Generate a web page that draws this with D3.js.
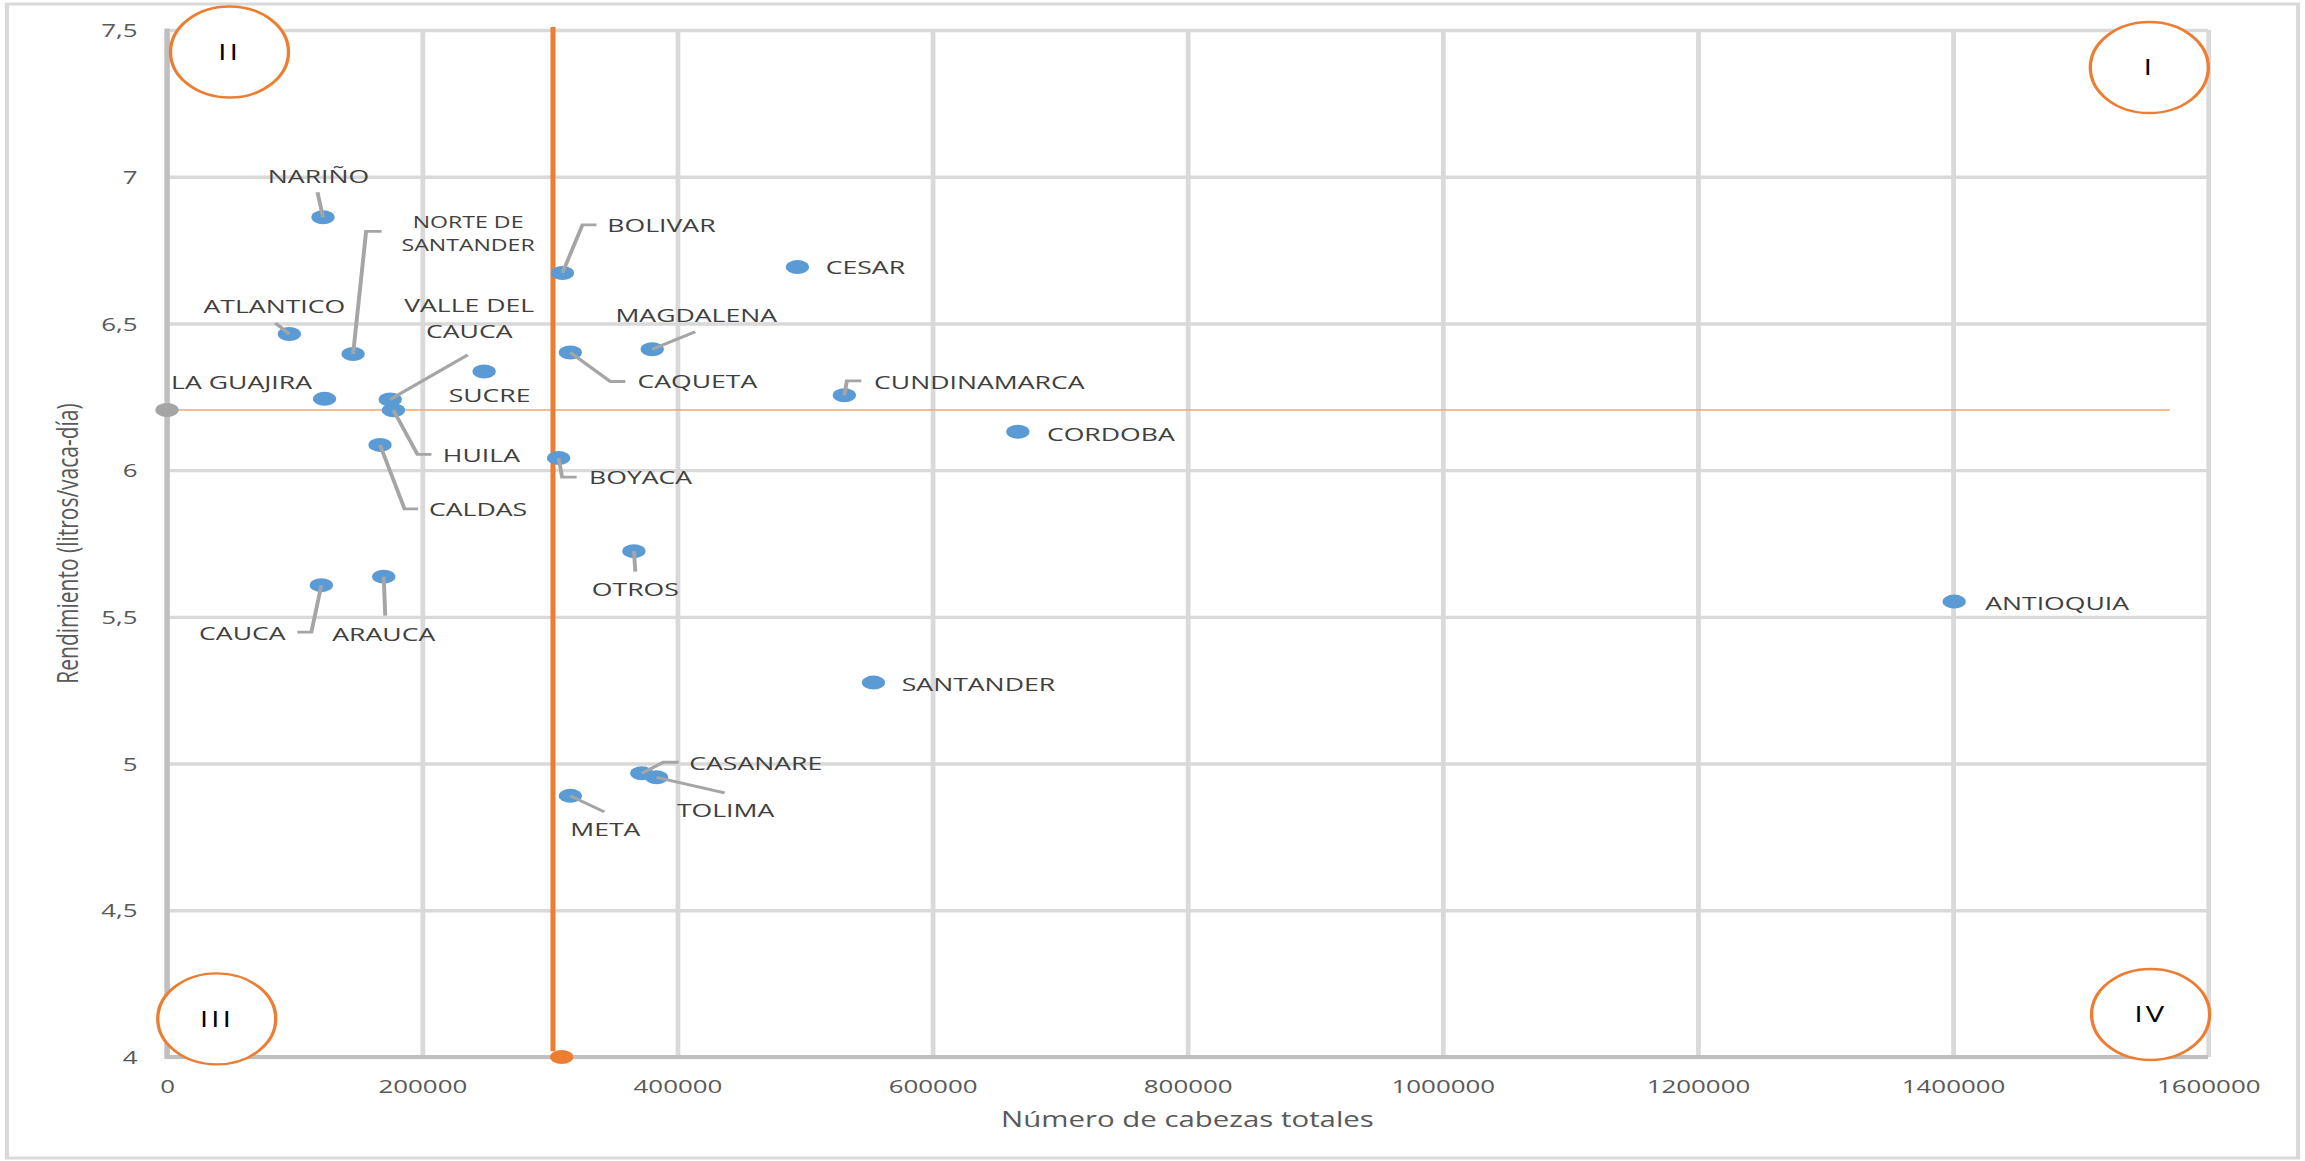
<!DOCTYPE html>
<html>
<head>
<meta charset="utf-8">
<script src="https://cdn.jsdelivr.net/npm/d3@7"></script>
<style>
    body { margin: 0; background: #fff; }
    text { font-family: "Open Sans", "Liberation Sans", sans-serif; }
</style>
</head>
<body>
<div id="chart"></div>
<script>
// Data
const departamentos = ["ANTIOQUIA", "ARAUCA", "ATLANTICO", "BOLIVAR", "BOYACA", "CALDAS", "CAQUETA",
    "CASANARE", "CAUCA", "CESAR", "CORDOBA", "CUNDINAMARCA", "HUILA", "LA GUAJIRA", "MAGDALENA",
    "META", "NARIÑO", "NORTE DE SANTANDER", "SANTANDER", "SUCRE", "TOLIMA", "VALLE DEL CAUCA", "OTROS"];
const cabezas = [1401000, 169900, 95900, 310000, 307000, 167000, 316200,
    372200, 121000, 494200, 667000, 531000, 177500, 123500, 380400,
    316200, 122300, 145900, 553800, 248600, 383800, 175000, 366000];
const rendimiento = [5.552, 5.637, 6.464, 6.672, 6.041, 6.086, 6.401,
    4.967, 5.608, 6.692, 6.131, 6.255, 6.204, 6.243, 6.412,
    4.890, 6.862, 6.396, 5.276, 6.336, 4.953, 6.241, 5.724];

// Promedios (reference lines)
const promedioCabezasLinea = 302600;
const promedioCabezasPunto = 309400;
const promedioRendimiento = 6.205;

// Ticks
const xTicks = [0, 200000, 400000, 600000, 800000, 1000000, 1200000, 1400000, 1600000];
const yTicks = [4, 4.5, 5, 5.5, 6, 6.5, 7, 7.5];
const yTickLabels = ["4", "4,5", "5", "5,5", "6", "6,5", "7", "7,5"];

// Quadrant marks
const cuadrantes = ["I", "II", "III", "IV"];
const cuadranteX = [1554000, 49000, 39000, 1555000];
const cuadranteY = [7.372, 7.425, 4.130, 4.145];

// Label layout: offsets in screen px from the point, leader polyline ends at the point
const labelLayout = {
    "ANTIOQUIA": { dx: 103, dy: [8] },
    "ARAUCA": { dx: 0, dy: [64], leader: [[1.5, 39], [0, 0]] },
    "ATLANTICO": { dx: -15, dy: [-21], leader: [[-14, -11], [0, 0]] },
    "BOLIVAR": { dx: 99, dy: [-41], leader: [[34, -48], [20, -48], [0, 0]] },
    "BOYACA": { dx: 82, dy: [26], leader: [[18, 19], [3.5, 19], [0, 0]] },
    "CALDAS": { dx: 98, dy: [71], leader: [[38, 64], [24.5, 64], [0, 0]] },
    "CAQUETA": { dx: 127, dy: [36], leader: [[55, 29], [40, 29], [0, 0]] },
    "CASANARE": { dx: 114, dy: [-3], leader: [[37, -11], [21.5, -11], [0, 0]] },
    "CAUCA": { dx: -79, dy: [55], leader: [[-24, 47], [-10, 47], [0, 0]] },
    "CESAR": { dx: 68, dy: [7] },
    "CORDOBA": { dx: 93, dy: [9] },
    "CUNDINAMARCA": { dx: 135, dy: [-6], leader: [[17, -14.5], [2.5, -14.5], [0, 0]] },
    "HUILA": { dx: 88, dy: [52], leader: [[38, 44], [24, 44], [0, 0]] },
    "LA GUAJIRA": { dx: -83, dy: [-9.5] },
    "MAGDALENA": { dx: 44, dy: [-27.5], leader: [[43, -17.5], [0, 0]] },
    "META": { dx: 35, dy: [40], leader: [[34, 16], [0, 0]] },
    "NARIÑO": { dx: -4.5, dy: [-34], leader: [[-5.5, -25], [0, 0]] },
    "NORTE DE SANTANDER": { dx: 115, dy: [-125.5, -102.5], lines: ["NORTE DE", "SANTANDER"], small: true,
        leader: [[28.5, -122.5], [13, -122.5], [0, 0]] },
    "SANTANDER": { dx: 105, dy: [8] },
    "SUCRE": { dx: 5.5, dy: [30.5] },
    "TOLIMA": { dx: 69, dy: [39.5], leader: [[68, 15.5], [0, 0]] },
    "VALLE DEL CAUCA": { dx: 79, dy: [-87, -61], lines: ["VALLE DEL", "CAUCA"], leader: [[77.5, -44.5], [0, 0]] },
    "OTROS": { dx: 1.5, dy: [45], leader: [[1.5, 20.5], [0, 0]] }
};

// The reference image is stretched horizontally; draw in a narrower space and stretch it
const K = 1.4;
const fullWidth = 2305, fullHeight = 1161;
const W = fullWidth / K;

const svg = d3.select("#chart")
    .append("svg")
    .attr("width", fullWidth)
    .attr("height", fullHeight)
    .attr("viewBox", `0 0 ${W} ${fullHeight}`)
    .attr("preserveAspectRatio", "none");

// Chart border
svg.append("rect")
    .attr("x", 7 / K)
    .attr("y", 4)
    .attr("width", (2298 - 7) / K)
    .attr("height", 1154)
    .attr("fill", "#fff")
    .attr("stroke", "#d9d9d9")
    .attr("stroke-width", 3);

const xScale = d3.scaleLinear()
    .domain([0, 1600000])
    .range([167 / K, 2208 / K]);

const yScale = d3.scaleLinear()
    .domain([4, 7.5])
    .range([1057, 30]);

const plotW = xScale(1600000) - xScale(0);
const plotH = yScale(4) - yScale(7.5);

// Grid + axes
svg.append("g")
    .attr("class", "x-axis")
    .attr("transform", `translate(0, ${yScale(4)})`)
    .call(d3.axisBottom(xScale)
        .tickValues(xTicks)
        .tickSize(-plotH)
        .tickPadding(23)
        .tickFormat(d => d));

svg.append("g")
    .attr("class", "y-axis")
    .attr("transform", `translate(${xScale(0)}, 0)`)
    .call(d3.axisLeft(yScale)
        .tickValues(yTicks)
        .tickSize(-plotW)
        .tickPadding(21)
        .tickFormat((d, i) => yTickLabels[i]));

svg.selectAll(".x-axis path, .y-axis path").remove();
svg.selectAll(".x-axis line, .y-axis line")
    .attr("stroke", "#d9d9d9")
    .attr("stroke-width", 3.4);
svg.selectAll(".x-axis text, .y-axis text")
    .attr("fill", "#595959")
    .style("font-size", "18.5px");
svg.selectAll(".y-axis text").attr("dy", "0.36em");

// Axis lines
svg.append("line")
    .attr("x1", xScale(0)).attr("x2", xScale(1600000))
    .attr("y1", yScale(4)).attr("y2", yScale(4))
    .attr("stroke", "#bfbfbf").attr("stroke-width", 4);
svg.append("line")
    .attr("x1", xScale(0)).attr("x2", xScale(0))
    .attr("y1", yScale(7.5) - 1.5).attr("y2", yScale(4) + 2)
    .attr("stroke", "#bfbfbf").attr("stroke-width", 3.8);

// Average lines
svg.append("line")
    .attr("x1", xScale(-6000)).attr("x2", xScale(1570000))
    .attr("y1", yScale(promedioRendimiento)).attr("y2", yScale(promedioRendimiento))
    .attr("stroke", "#f4a46e").attr("stroke-width", 1.6);

svg.append("line")
    .attr("x1", xScale(promedioCabezasLinea)).attr("x2", xScale(promedioCabezasLinea))
    .attr("y1", yScale(7.51)).attr("y2", yScale(4.02))
    .attr("stroke", "#ED7D31").attr("stroke-width", 3.6);

// Points
const points = departamentos.map((d, i) => ({ name: d, x: cabezas[i], y: rendimiento[i] }));

svg.selectAll(".dot")
    .data(points)
    .enter()
    .append("ellipse")
    .attr("class", "dot")
    .attr("cx", d => xScale(d.x))
    .attr("cy", d => yScale(d.y))
    .attr("rx", 8.3)
    .attr("ry", 7)
    .attr("fill", "#5B9BD5");

svg.append("ellipse")
    .attr("cx", xScale(0)).attr("cy", yScale(promedioRendimiento))
    .attr("rx", 8.3).attr("ry", 7)
    .attr("fill", "#A5A5A5");

svg.append("ellipse")
    .attr("cx", xScale(promedioCabezasPunto)).attr("cy", yScale(4))
    .attr("rx", 8.3).attr("ry", 7)
    .attr("fill", "#ED7D31");

// Leader lines
const line = d3.line();
points.forEach(p => {
    const lay = labelLayout[p.name];
    if (!lay.leader) return;
    svg.append("path")
        .attr("d", line(lay.leader.map(o => [xScale(p.x) + o[0] / K, yScale(p.y) + o[1]])))
        .attr("fill", "none")
        .attr("stroke", "#A5A5A5")
        .attr("stroke-width", 2.8);
});

// Data labels
points.forEach(p => {
    const lay = labelLayout[p.name];
    const lines = lay.lines || [p.name];
    lines.forEach((t, j) => {
        svg.append("text")
            .attr("x", xScale(p.x) + lay.dx / K)
            .attr("y", yScale(p.y) + lay.dy[j])
            .attr("text-anchor", "middle")
            .attr("fill", "#404040")
            .style("font-size", lay.small ? "16.5px" : "19px")
            .text(t);
    });
});

// Quadrant marks
cuadrantes.forEach((c, i) => {
    const cx = xScale(cuadranteX[i]), cy = yScale(cuadranteY[i]);
    svg.append("ellipse")
        .attr("cx", cx).attr("cy", cy)
        .attr("rx", 59 / K).attr("ry", 45.5)
        .attr("fill", "#fff")
        .attr("stroke", "#ED7D31")
        .attr("stroke-width", 2.4);
    svg.append("text")
        .attr("x", cx).attr("y", cy)
        .attr("dy", "0.36em")
        .attr("text-anchor", "middle")
        .attr("fill", "#000")
        .style("font-size", "22px")
        .style("letter-spacing", "2px")
        .text(c);
});

// Axis titles
svg.append("text")
    .attr("x", xScale(800000))
    .attr("y", 1127)
    .attr("text-anchor", "middle")
    .attr("fill", "#595959")
    .style("font-size", "21px")
    .text("Número de cabezas totales");

svg.append("text")
    .attr("transform", `translate(${78 / K}, ${(yScale(4) + yScale(7.5)) / 2}) rotate(-90)`)
    .attr("text-anchor", "middle")
    .attr("fill", "#595959")
    .style("font-size", "21px")
    .text("Rendimiento (litros/vaca-día)");
</script>
</body>
</html>
